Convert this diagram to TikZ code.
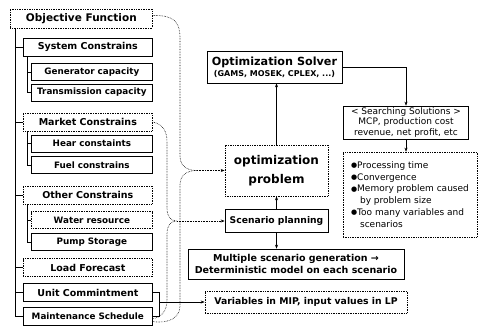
\documentclass[tikz,border=0pt]{standalone}
\usepackage{fontspec}
\setmainfont{DejaVu Sans}
\usetikzlibrary{arrows.meta}

\tikzset{
  box/.style={draw, line width=0.7pt, inner sep=1pt, align=center},
  dotbox/.style={box, densely dotted},
  topbox/.style={box, anchor=west, minimum width=129pt, minimum height=18pt,
    font=\bfseries\fontsize{9.5}{11}\selectfont},
  subbox/.style={box, anchor=west, minimum width=121pt, minimum height=17pt,
    font=\bfseries\fontsize{8.8}{10}\selectfont},
  tree/.style={line width=0.6pt},
  brace/.style={densely dotted, line width=0.6pt},
}
\newcommand{\dotmark}{\raisebox{0.8pt}{\fontsize{7}{8}\selectfont●}}

\begin{document}
\begin{tikzpicture}[x=1pt,y=-1pt,>={Stealth[length=4pt,width=3pt]}]
  \useasboundingbox (0,0) rectangle (478,326);

  % constraint list
  \node[topbox, dotbox, minimum width=142pt, minimum height=19pt,
    font=\bfseries\fontsize{10.5}{12}\selectfont] (obj) at (10,18.5) {Objective Function};
  \node[topbox] (sys) at (23,47) {System Constrains};
  \node[subbox] (gen) at (31,72) {Generator capacity};
  \node[subbox] (trans) at (31,92.5) {Transmission capacity};
  \node[topbox, dotbox] (market) at (23,122) {Market Constrains};
  \node[subbox] (hear) at (31,143.5) {Hear constaints};
  \node[subbox] (fuel) at (31,165) {Fuel constrains};
  \node[topbox, dotbox] (other) at (23,195) {Other Constrains};
  \node[subbox, dotbox] (water) at (31,220) {Water resource};
  \node[subbox] (pump) at (31,242) {Pump Storage};
  \node[topbox, dotbox] (load) at (23,267.5) {Load Forecast};
  \node[topbox] (unit) at (23,292.5) {Unit Commintment};
  \node[topbox, font=\bfseries\fontsize{8.8}{10}\selectfont] (maint) at (23,316.5) {Maintenance Schedule};

  % tree lines
  \coordinate (trunk) at ([xshift=5pt]obj.south west);
  \draw[tree] (trunk) |- (maint.west);
  \foreach \n in {sys,market,other,load,unit}
    \draw[tree] (trunk |- \n.west) -- (\n.west);
  \foreach \p/\a/\b in {sys/gen/trans,market/hear/fuel,other/water/pump}{
    \draw[tree] ([xshift=4pt]\p.south west) |- (\b.west);
    \draw[tree] ([xshift=4pt]\p.south west) |- (\a.west);
  }

  % solver side
  \node[box, minimum width=135pt, minimum height=32pt,
    font=\bfseries\fontsize{11.2}{12}\selectfont] (solver) at (274.5,67)
    {Optimization Solver\\[-1pt]{\fontsize{8}{9}\selectfont(GAMS, MOSEK, CPLEX, ...)}};
  \node[dotbox, minimum width=103pt, minimum height=51pt,
    font=\bfseries\fontsize{12}{19}\selectfont] (opt) at (276.5,170.5) {optimization\\problem};
  \node[box, minimum width=103pt, minimum height=23pt,
    font=\bfseries\fontsize{9.2}{11}\selectfont] (scen) at (276.5,221) {Scenario planning};
  \node[box, minimum width=216pt, minimum height=30pt,
    font=\bfseries\fontsize{9.5}{12}\selectfont] (multi) at (296,264)
    {Multiple scenario generation →\\Deterministic model on each scenario};
  \node[box, dotbox, minimum width=202pt, minimum height=22pt,
    font=\bfseries\fontsize{9.3}{11}\selectfont] (vars) at (306,302) {Variables in MIP, input values in LP};
  \node[box, minimum width=125pt, minimum height=33pt,
    font=\fontsize{9}{10.5}\selectfont] (search) at (406,122.5)
    {< Searching Solutions >\\MCP, production cost\\revenue, net profit, etc};
  \node[dotbox, minimum width=134pt, minimum height=85pt, align=left,
    font=\fontsize{9}{11.8}\selectfont] (issues) at (410,194.5)
    {\dotmark Processing time\\\dotmark Convergence\\\dotmark Memory problem caused\\
     \phantom{\dotmark} by problem size\\\dotmark Too many variables and\\\phantom{\dotmark} scenarios};

  \draw[->] (opt.north) -- (opt.north |- solver.south);
  \draw[->] (scen.north) -- (scen.north |- opt.south);
  \draw[->] (scen.south) -- (scen.south |- multi.north);
  \draw[->] (solver.east) -| (search.north);
  \draw[->] (search.south) -- (search.south |- issues.north);

  % braces into the problem
  \coordinate (tipa) at (197,170.5);
  \coordinate (tipb) at (177,221);
  \draw[brace] ([yshift=3pt]obj.east) .. controls (174,15) and (180,22) .. (180,38)
    -- (180,156) .. controls (180,166) and (187,170.5) .. (tipa)
    .. controls (187,170.5) and (180,175) .. (180,185)
    -- (180,306) .. controls (180,318) and (168,324) .. ([yshift=-5pt]maint.east);
  \draw[brace,->] (tipa) -- (opt.west);
  \draw[brace] (market.east) .. controls (162,124) and (167,130) .. (167,142)
    -- (167,208) .. controls (167,217) and (171,221) .. (tipb)
    .. controls (171,221) and (167,225) .. (167,234)
    -- (167,300) .. controls (167,312) and (160,318) .. ([yshift=-2pt]maint.east);
  \draw[brace,->] (tipb) -- (scen.west);

  % unit commitment and maintenance
  \coordinate (ubr) at ([xshift=7pt]unit.east);
  \draw[tree] (unit.east) -- (ubr) |- (maint.east);
  \draw[tree,->] (ubr |- vars.west) -- (vars.west);
\end{tikzpicture}
\end{document}
